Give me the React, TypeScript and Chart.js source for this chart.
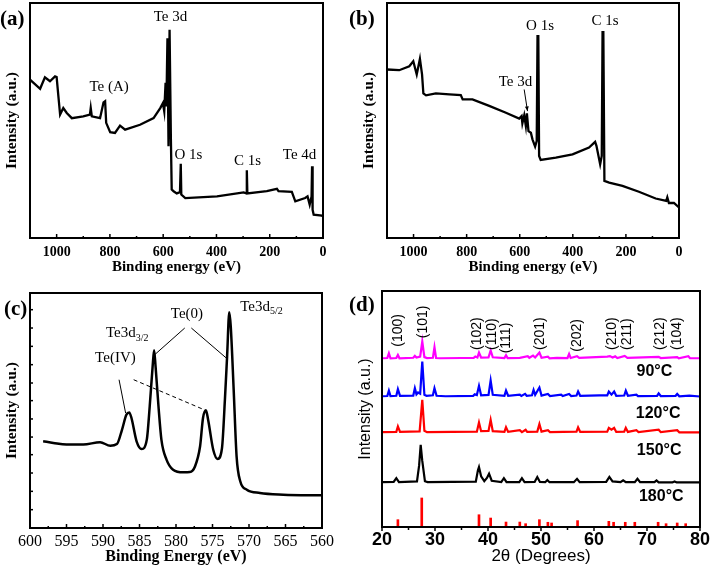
import React, { useEffect, useRef } from 'react';
import { Chart, registerables } from 'chart.js';
Chart.register(...registerables);

type P = [number, number];

// ---------- data ----------
const surveyTicks = [0, 200, 400, 600, 800, 1000];
const te3dTicks = [560, 565, 570, 575, 580, 585, 590, 595, 600];
const te3dYMarks = [7.8, 15.6, 23.4, 31.2, 38.7, 46.4, 54.2, 61.7, 69.5, 77.3, 85.1, 92.9];
const xrdTicks = [20, 30, 40, 50, 60, 70, 80];

const surveyA: P[] = [
  [1100, 67.4], [1062, 63.5], [1044, 68.4], [1025, 66.7], [1006, 68.8], [1000, 68.5], [994, 61], [987, 52.5],
  [975, 55.3], [962, 53.2], [943, 51], [900, 51.8], [875, 52.5], [872, 55.3], [868, 51.8], [837, 51],
  [824, 57.7], [818, 58.2], [814, 49], [799, 45], [781, 44.7], [762, 47.8], [743, 46.1], [687, 48.2],
  [636, 51], [611, 55.3], [601, 57.4], [596, 53.9], [591, 66], [588, 56], [584, 85], [580, 39],
  [576, 88.6], [571, 41.8], [568, 20.6], [561, 19.9], [549, 19], [537, 19.5], [534, 31.6], [532, 18.5],
  [517, 17], [398, 17.7], [298, 19.4], [288, 19], [286, 28.8], [284, 19], [211, 19.9], [173, 20.9],
  [167, 19.9], [117, 19.6], [104, 15.6], [67, 17], [58, 17.7], [50, 14.2], [43, 17.7], [41, 30.5],
  [39, 12], [35, 9.9], [4, 9.5], [0, 9.2],
];

const surveyB: P[] = [
  [1100, 71.7], [1054, 71.4], [1016, 73.1], [1001, 75.2], [988, 69.6], [976, 76.2], [968, 69.6], [963, 61.5],
  [953, 60.7], [916, 61.5], [865, 61.1], [822, 60.8], [815, 59], [778, 59], [715, 56.2], [652, 53.3],
  [602, 50.8], [593, 51.9], [590, 48.8], [583, 52.2], [577, 47.7], [573, 53], [567, 45.5], [558, 44.8],
  [552, 42], [542, 38.9], [536, 41.3], [533, 85.9], [530, 85.9], [527, 34.9], [521, 33.2], [464, 34.2],
  [401, 35.6], [339, 38.5], [316, 40.9], [311, 39.2], [297, 31.4], [291, 34.9], [288, 87.6], [285, 87.6],
  [281, 24.3], [263, 23.6], [213, 22.2], [151, 19.7], [88, 16.8], [48, 15.8], [44, 17.3], [38, 14.9],
  [19, 14.9], [0, 13],
];

const te3d: P[] = [
  [598.2, 36.9], [596.8, 36.2], [595, 35.5], [592.7, 35.5], [590.4, 36.5], [589, 35], [588.1, 35.7],
  [587.4, 41.8], [586.8, 48.2], [586.4, 49.2], [586.1, 46.8], [585.4, 36.9], [584.7, 33.6], [584, 37.6],
  [583.6, 51.8], [583.2, 68.8], [583, 75.6], [582.8, 68.8], [582.4, 51.8], [582, 37.6], [581.3, 29.1],
  [580.4, 24.8], [579, 23.7], [578.1, 23.8], [577.4, 26.2], [576.7, 34.8], [576.3, 46.8], [575.9, 50.1],
  [575.6, 46.1], [574.9, 33.3], [574.3, 29.4], [573.7, 34], [573.3, 54.6], [573, 73], [572.7, 91.8],
  [572.5, 85.8], [572.1, 58.9], [571.7, 30.5], [571.2, 19.9], [570.3, 16.3], [568.5, 14.9], [565.3, 14.2],
  [560, 13.9],
];

const xrd90: P[] = [
  [20, 71.5], [21.0, 71.6], [21.3, 73.6], [21.6, 71.5], [22.7, 71.6], [23.0, 72.9], [23.3, 71.5], [25.9, 71.7],
  [26.2, 72.5], [26.5, 71.8], [27.2, 72.2], [27.6, 78.6], [28.0, 72.0], [28.5, 71.6], [29.6, 71.7], [29.9, 76.2],
  [30.2, 71.6], [31, 71.5], [35, 71.6], [37.3, 71.7], [37.6, 72.2], [38.0, 71.8], [38.3, 73.9], [38.7, 71.8],
  [40.1, 71.9], [40.5, 74.8], [40.9, 71.9], [43.1, 71.6], [43.4, 72.8], [43.7, 71.6], [46, 71.7], [47.5, 72.4],
  [47.8, 71.7], [48.5, 72.6], [48.9, 71.8], [49.7, 73.9], [50.1, 71.7], [51.3, 72.2], [51.6, 71.5], [53, 71.7],
  [55.0, 71.6], [55.3, 73.3], [55.6, 71.6], [56.8, 72.4], [57.2, 71.7], [62.5, 72.2], [63.0, 72.4], [63.5, 71.8],
  [64.0, 72.3], [64.4, 71.6], [65.8, 72.5], [66.3, 71.7], [72.2, 72.1], [72.6, 71.6], [75.7, 72.0], [76, 71.5],
  [77.8, 72.4], [78.1, 71.5], [80, 71.5],
];

const xrd120: P[] = [
  [20, 55.4], [21.0, 55.5], [21.3, 57.8], [21.6, 55.5], [22.7, 55.6], [23.0, 58.4], [23.4, 55.6], [25.9, 55.7],
  [26.2, 58.8], [26.5, 56.2], [26.8, 57.0], [27.2, 56.5], [27.6, 70.1], [28.0, 56.0], [28.4, 55.6], [29.6, 55.8],
  [29.9, 58.8], [30.3, 55.6], [32, 55.4], [37.2, 55.6], [37.5, 56.2], [37.9, 55.9], [38.3, 59.8], [38.7, 55.8],
  [40.1, 56.0], [40.5, 62.1], [40.9, 56.0], [43.1, 55.6], [43.4, 57.8], [43.8, 55.6], [46.0, 56.1], [46.3, 55.5],
  [47.0, 56.4], [47.3, 55.6], [48.3, 55.8], [48.6, 58.1], [48.9, 56.0], [49.7, 59.1], [50.1, 55.7], [51.3, 56.4],
  [51.7, 55.5], [53.8, 56.1], [54.1, 55.5], [55.3, 56.4], [55.7, 55.5], [56.7, 55.7], [57.0, 57.4], [57.4, 55.6],
  [61.0, 55.8], [62.5, 55.8], [62.8, 57.4], [63.3, 56.1], [63.8, 57.4], [64.2, 55.6], [65.7, 55.7], [66.0, 57.8],
  [66.4, 55.6], [68.0, 56.1], [68.3, 55.5], [71.9, 55.6], [72.2, 56.6], [72.6, 55.5], [75.4, 55.6], [75.7, 56.4],
  [76.1, 55.4], [78.0, 55.7], [80, 55.3],
];

const xrd150: P[] = [
  [20, 40.2], [22.7, 40.3], [23.0, 42.6], [23.4, 40.3], [27.1, 40.5], [27.6, 53.9], [28.0, 40.8], [28.5, 40.2],
  [37.9, 40.4], [38.3, 44.3], [38.7, 40.6], [40.1, 40.7], [40.5, 45.4], [40.9, 40.6], [43.1, 40.3], [43.4, 42.3],
  [43.8, 40.3], [46.0, 41.0], [46.4, 40.2], [47.1, 41.2], [47.4, 40.3], [49.3, 40.4], [49.7, 43.6], [50.1, 40.4],
  [51.3, 41.0], [51.7, 40.2], [56.7, 40.4], [57.0, 42.2], [57.4, 40.3], [62.5, 40.4], [62.8, 42.0], [63.3, 41.2],
  [63.8, 42.0], [64.2, 40.3], [65.7, 40.4], [66.0, 42.0], [66.4, 40.3], [68.0, 41.0], [68.4, 40.2], [72.2, 41.2],
  [72.6, 40.2], [75.7, 41.0], [76.1, 40.1], [80, 40.1],
];

const xrd180: P[] = [
  [20, 19.0], [22.2, 19.1], [22.7, 20.7], [23.2, 19.0], [26.6, 19.3], [27.0, 26], [27.3, 34.8], [27.6, 28],
  [28.1, 19.4], [28.6, 19.0], [37.7, 19.2], [38.1, 24], [38.3, 25.4], [38.7, 21.5], [39.3, 19.4], [39.8, 20.8],
  [40.2, 22.6], [40.7, 19.6], [42.5, 19.0], [43.0, 20.7], [43.5, 19.0], [45.9, 19.0], [46.4, 20.7], [46.9, 19.0],
  [48.8, 19.1], [49.3, 21.2], [49.8, 19.1], [50.8, 19.0], [51.2, 19.9], [51.6, 19.0], [56.2, 19.0], [56.8, 20.4],
  [57.3, 19.0], [62.3, 19.1], [62.9, 21.2], [63.5, 19.3], [65.0, 19.0], [65.5, 19.8], [66.0, 19.0], [67.7, 19.0],
  [68.2, 20.4], [68.7, 19.0], [71.4, 19.0], [71.8, 19.7], [72.2, 18.9], [74.8, 18.9], [75.2, 19.3], [75.6, 18.9],
  [80, 18.9],
];

const refPos = [23.0, 27.5, 38.3, 40.5, 43.4, 46.0, 47.1, 49.7, 51.3, 52.0, 56.9, 62.8, 63.7, 65.9, 67.7, 72.1, 73.6, 75.7, 77.3];
const refInt = [3.1, 12.3, 5.2, 3.8, 2.1, 2.1, 1.4, 3.1, 2.0, 1.7, 2.7, 2.4, 2.0, 2.0, 2.0, 2.0, 1.4, 1.7, 1.4];

const millerLabels = ['(100)', '(101)', '(102)', '(110)', '(111)', '(201)', '(202)', '(210)', '(211)', '(212)', '(104)'];
const millerX = [23.0, 27.7, 38.0, 40.8, 43.5, 49.8, 56.8, 63.4, 66.2, 72.4, 75.6];
const millerY = [76.4, 80, 75, 75, 73.6, 75, 74.3, 75, 75, 75, 75];

// ---------- helpers ----------
const SERIF = "'Liberation Serif', 'Times New Roman', serif";
const SANS = "'Liberation Sans', Arial, sans-serif";

type Note = { x: number; y: number; text: string; sub?: string; font: string; align?: CanvasTextAlign; rot?: boolean };
type Seg = { x1: number; y1: number; x2: number; y2: number; dash?: boolean; arrow?: boolean };
interface Decor {
  frame: number;
  xMajor: number;
  xMinor: number;
  xOut?: boolean;
  yLen?: number;
  notes: Note[];
  segs?: Seg[];
}

function makeDecor(cfg: Decor) {
  return {
    id: 'decor',
    afterDraw(chart: any) {
      const { ctx, chartArea: a, scales } = chart;
      const xs = scales.x;
      const ys = scales.y;
      const line = (x1: number, y1: number, x2: number, y2: number) => {
        ctx.beginPath();
        ctx.moveTo(x1, y1);
        ctx.lineTo(x2, y2);
        ctx.stroke();
      };
      ctx.save();
      ctx.strokeStyle = '#000';
      ctx.fillStyle = '#000';
      ctx.lineWidth = 1.5;
      const d = cfg.xOut ? 1 : -1;
      const xv: number[] = xs.ticks.map((t: any) => t.value);
      xv.forEach((v) => {
        const p = xs.getPixelForValue(v);
        line(p, a.bottom, p, a.bottom + d * cfg.xMajor);
      });
      for (let i = 0; i < xv.length - 1; i++) {
        const p = xs.getPixelForValue((xv[i] + xv[i + 1]) / 2);
        line(p, a.bottom, p, a.bottom + d * cfg.xMinor);
      }
      if (cfg.yLen) {
        ys.ticks.forEach((t: any) => {
          const p = ys.getPixelForValue(t.value);
          line(a.left, p, a.left + (cfg.yLen as number), p);
        });
      }
      (cfg.segs || []).forEach((s) => {
        const x1 = xs.getPixelForValue(s.x1), y1 = ys.getPixelForValue(s.y1);
        const x2 = xs.getPixelForValue(s.x2), y2 = ys.getPixelForValue(s.y2);
        ctx.lineWidth = 1;
        ctx.setLineDash(s.dash ? [4, 3] : []);
        line(x1, y1, x2, y2);
        ctx.setLineDash([]);
        if (s.arrow) {
          const ang = Math.atan2(y2 - y1, x2 - x1);
          ctx.beginPath();
          ctx.moveTo(x2, y2);
          ctx.lineTo(x2 - 5 * Math.cos(ang - 0.4), y2 - 5 * Math.sin(ang - 0.4));
          ctx.lineTo(x2 - 5 * Math.cos(ang + 0.4), y2 - 5 * Math.sin(ang + 0.4));
          ctx.closePath();
          ctx.fill();
        }
      });
      cfg.notes.forEach((n) => {
        const px = xs.getPixelForValue(n.x);
        const py = ys.getPixelForValue(n.y);
        ctx.font = n.font;
        ctx.textBaseline = 'middle';
        if (n.rot) {
          ctx.save();
          ctx.translate(px, py);
          ctx.rotate(-Math.PI / 2);
          ctx.textAlign = 'left';
          ctx.fillText(n.text, 0, 0);
          ctx.restore();
        } else if (n.sub) {
          ctx.textAlign = 'left';
          ctx.fillText(n.text, px, py);
          const w = ctx.measureText(n.text).width;
          const size = parseFloat(n.font.match(/(\d+(\.\d+)?)px/)![1]);
          ctx.font = n.font.replace(/\d+(\.\d+)?px/, Math.round(size * 0.68) + 'px');
          ctx.fillText(n.sub, px + w, py + size * 0.3);
        } else {
          ctx.textAlign = n.align || 'center';
          ctx.fillText(n.text, px, py);
        }
      });
      ctx.lineWidth = cfg.frame;
      ctx.strokeRect(a.left, a.top, a.right - a.left, a.bottom - a.top);
      ctx.restore();
    },
  };
}

const pts = (arr: P[]) => arr.map(([x, y]) => ({ x, y }));

function axisBase() {
  return {
    grid: { display: false, drawTicks: false },
    border: { display: false },
  };
}

function serifChart(o: {
  data: P[];
  ticks: number[];
  min: number;
  max: number;
  xTitle: string;
  pad: { left: number; top: number; right: number; bottom: number };
  yW: number;
  xH: number;
  tickFont: any;
  tickPad: number;
  titleSize: number;
  lineW: number;
  smooth?: boolean;
  yMarks?: number[];
  decor: Decor;
}): any {
  return {
    type: 'line',
    data: {
      datasets: [
        {
          data: pts(o.data),
          borderColor: '#000',
          borderWidth: o.lineW,
          pointRadius: 0,
          fill: false,
          cubicInterpolationMode: o.smooth ? 'monotone' : 'default',
          tension: 0,
        },
      ],
    },
    options: {
      responsive: false,
      animation: false,
      layout: { padding: o.pad },
      plugins: { legend: { display: false }, tooltip: { enabled: false } },
      scales: {
        x: {
          type: 'linear',
          reverse: true,
          min: o.min,
          max: o.max,
          ...axisBase(),
          afterBuildTicks: (s: any) => {
            s.ticks = o.ticks.map((v) => ({ value: v }));
          },
          afterFit: (s: any) => {
            s.height = o.xH;
          },
          ticks: {
            padding: o.tickPad,
            color: '#000',
            font: o.tickFont,
            maxRotation: 0,
            autoSkip: false,
            callback: (v: any) => String(v),
          },
          title: {
            display: true,
            text: o.xTitle,
            color: '#000',
            font: { family: SERIF, size: o.titleSize, weight: 'bold' },
            padding: { top: 0, bottom: 3 },
          },
        },
        y: {
          type: 'linear',
          min: 0,
          max: 100,
          ...axisBase(),
          afterBuildTicks: (s: any) => {
            s.ticks = (o.yMarks || []).map((v) => ({ value: v }));
          },
          afterFit: (s: any) => {
            s.width = o.yW;
          },
          ticks: { display: false },
          title: {
            display: true,
            text: 'Intensity (a.u.)',
            color: '#000',
            font: { family: SERIF, size: 15.5, weight: 'bold' },
            padding: { top: 3, bottom: 0 },
          },
        },
      },
    },
    plugins: [makeDecor(o.decor)],
  };
}

const NOTE_FONT = `15px ${SERIF}`;

function configA() {
  return serifChart({
    data: surveyA,
    ticks: surveyTicks,
    min: 0,
    max: 1100,
    xTitle: 'Binding energy (eV)',
    pad: { left: 0, top: 3, right: 33, bottom: 11 },
    yW: 30,
    xH: 41,
    tickFont: { family: SERIF, size: 14, weight: 'bold' },
    tickPad: 6,
    titleSize: 15,
    lineW: 2.3,
    decor: {
      frame: 2,
      xMajor: 4,
      xMinor: 2,
      notes: [
        { x: 572.5, y: 94, text: 'Te 3d', font: NOTE_FONT },
        { x: 803, y: 64.3, text: 'Te (A)', font: NOTE_FONT },
        { x: 505, y: 35.3, text: 'O 1s', font: NOTE_FONT },
        { x: 283.5, y: 32.8, text: 'C 1s', font: NOTE_FONT },
        { x: 88, y: 35.3, text: 'Te 4d', font: NOTE_FONT },
      ],
    },
  });
}

function configB() {
  return serifChart({
    data: surveyB,
    ticks: surveyTicks,
    min: 0,
    max: 1100,
    xTitle: 'Binding energy (eV)',
    pad: { left: 1, top: 3, right: 33, bottom: 11 },
    yW: 30,
    xH: 41,
    tickFont: { family: SERIF, size: 14, weight: 'bold' },
    tickPad: 6,
    titleSize: 15,
    lineW: 2.3,
    decor: {
      frame: 2,
      xMajor: 4,
      xMinor: 2,
      notes: [
        { x: 523.6, y: 90.2, text: 'O 1s', font: NOTE_FONT },
        { x: 278.8, y: 92.3, text: 'C 1s', font: NOTE_FONT },
        { x: 616, y: 66.4, text: 'Te 3d', font: NOTE_FONT },
      ],
      segs: [{ x1: 583.2, y1: 63.2, x2: 570.7, y2: 54.0, arrow: true }],
    },
  });
}

function configC() {
  return serifChart({
    data: te3d,
    ticks: te3dTicks,
    min: 560,
    max: 600,
    xTitle: 'Binding Energy (eV)',
    pad: { left: 0, top: 3, right: 34, bottom: 4 },
    yW: 30,
    xH: 41,
    tickFont: { family: SERIF, size: 16 },
    tickPad: 4,
    titleSize: 16,
    lineW: 2.5,
    smooth: true,
    yMarks: te3dYMarks,
    decor: {
      frame: 2,
      xMajor: 4,
      xMinor: 2,
      yLen: 3,
      notes: [
        { x: 571.2, y: 94, text: 'Te3d', sub: '5/2', font: NOTE_FONT },
        { x: 578.5, y: 91, text: 'Te(0)', font: NOTE_FONT },
        { x: 589.6, y: 82.8, text: 'Te3d', sub: '3/2', font: NOTE_FONT },
        { x: 588.3, y: 72.2, text: 'Te(IV)', font: NOTE_FONT },
      ],
      segs: [
        { x1: 578.8, y1: 85.1, x2: 582.9, y2: 73.8 },
        { x1: 577.9, y1: 85.1, x2: 573.1, y2: 72.3 },
        { x1: 587.8, y1: 63.1, x2: 586.9, y2: 48.9 },
        { x1: 585.8, y1: 63.1, x2: 576.2, y2: 50.4, dash: true },
      ],
    },
  });
}

function configD(): any {
  const lineDs = (arr: P[], color: string) => ({
    type: 'line',
    data: pts(arr),
    borderColor: color,
    borderWidth: 2.2,
    pointRadius: 0,
    fill: false,
    tension: 0,
  });
  const tempFont = `bold 16px ${SANS}`;
  const notes: Note[] = [
    { x: 71.4, y: 65.8, text: '90°C', font: tempFont },
    { x: 72.1, y: 47.9, text: '120°C', font: tempFont },
    { x: 72.3, y: 32.2, text: '150°C', font: tempFont },
    { x: 72.7, y: 12.7, text: '180°C', font: tempFont },
    ...millerLabels.map((t, i) => ({ x: millerX[i], y: millerY[i], text: t, font: `14px ${SANS}`, rot: true })),
  ];
  return {
    type: 'line',
    data: {
      datasets: [
        lineDs(xrd90, '#ff00ff'),
        lineDs(xrd120, '#0000ff'),
        lineDs(xrd150, '#ff0000'),
        lineDs(xrd180, '#000000'),
        {
          type: 'bar',
          data: refPos.map((x, i) => ({ x, y: refInt[i] })),
          backgroundColor: '#ff0000',
          barThickness: 2,
        },
      ],
    },
    options: {
      responsive: false,
      animation: false,
      layout: { padding: { left: 0, top: 1, right: 10, bottom: 5 } },
      plugins: { legend: { display: false }, tooltip: { enabled: false } },
      scales: {
        x: {
          type: 'linear',
          min: 20,
          max: 80,
          offset: false,
          ...axisBase(),
          afterBuildTicks: (s: any) => {
            s.ticks = xrdTicks.map((v) => ({ value: v }));
          },
          afterFit: (s: any) => {
            s.height = 41;
          },
          ticks: {
            padding: 2,
            color: '#000',
            font: { family: SANS, size: 18, weight: 'bold' },
            maxRotation: 0,
            autoSkip: false,
            callback: (v: any) => String(v),
          },
          title: {
            display: true,
            text: '2θ (Degrees)',
            color: '#000',
            font: { family: SANS, size: 17 },
            padding: { top: 0, bottom: 1 },
          },
        },
        y: {
          type: 'linear',
          min: 0,
          max: 100,
          ...axisBase(),
          afterBuildTicks: (s: any) => {
            s.ticks = [];
          },
          afterFit: (s: any) => {
            s.width = 26;
          },
          ticks: { display: false },
          title: {
            display: true,
            text: 'Intensity (a.u.)',
            color: '#000',
            font: { family: SANS, size: 16 },
            padding: { top: 0, bottom: 0 },
          },
        },
      },
    },
    plugins: [makeDecor({ frame: 2, xMajor: 4, xMinor: 3, xOut: true, notes })],
  };
}

function ChartBox(props: { left: number; top: number; width: number; height: number; make: () => any }) {
  const ref = useRef<HTMLCanvasElement>(null);
  useEffect(() => {
    const c = new Chart(ref.current as HTMLCanvasElement, props.make());
    return () => c.destroy();
  }, []);
  return (
    <div style={{ position: 'absolute', left: props.left, top: props.top, width: props.width, height: props.height }}>
      <canvas ref={ref} width={props.width} height={props.height} style={{ display: 'block' }} />
    </div>
  );
}

const letterStyle = (left: number, top: number): React.CSSProperties => ({
  position: 'absolute',
  left,
  top,
  font: `bold 21px ${SERIF}`,
  lineHeight: '21px',
  color: '#000',
  whiteSpace: 'nowrap',
});

export default function App() {
  return (
    <div style={{ position: 'absolute', left: 0, top: 0, width: 712, height: 573, background: '#fff', overflow: 'hidden' }}>
      <ChartBox left={0} top={0} width={356} height={290} make={configA} />
      <ChartBox left={356} top={0} width={356} height={290} make={configB} />
      <ChartBox left={0} top={290} width={356} height={283} make={configC} />
      <ChartBox left={356} top={290} width={356} height={283} make={configD} />
      <div style={letterStyle(0, 8)}>(a)</div>
      <div style={letterStyle(349, 8)}>(b)</div>
      <div style={letterStyle(4, 298)}>(c)</div>
      <div style={letterStyle(349, 294)}>(d)</div>
    </div>
  );
}
